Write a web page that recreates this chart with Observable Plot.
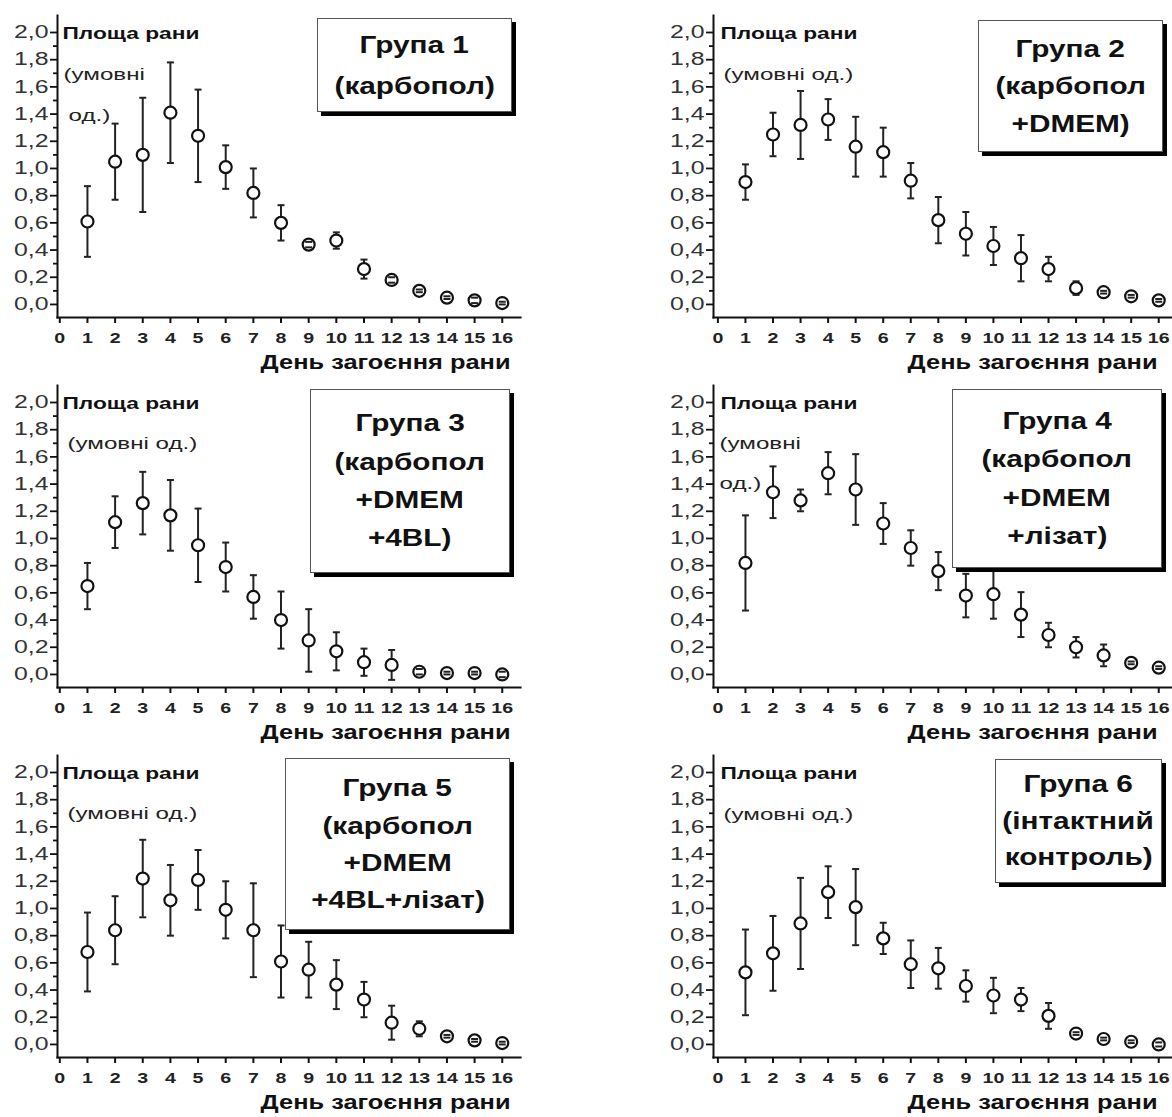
<!DOCTYPE html>
<html><head><meta charset="utf-8">
<script src="https://cdn.jsdelivr.net/npm/d3@7"></script>
<script src="https://cdn.jsdelivr.net/npm/@observablehq/plot@0.6"></script>
<style>
body{margin:0;background:#fff;}
#root{position:relative;width:1172px;height:1117px;overflow:hidden;font-family:"Liberation Sans",Arial,sans-serif;background:#fff;}
.panel{position:absolute;}
.panel svg{overflow:visible;background:transparent;}
.box{position:absolute;background:#fff;border:1px solid #555;box-shadow:4px 4px 0 #000;display:flex;flex-direction:column;justify-content:center;align-items:center;font-weight:bold;font-size:24px;color:#111;box-sizing:border-box;}
.box span{display:block;transform:scaleX(1.24);white-space:nowrap;}
</style></head><body><div id="root"></div>
<script>
// ---- data ----
const days = [1,2,3,4,5,6,7,8,9,10,11,12,13,14,15,16];
const xTickValues = [0,1,2,3,4,5,6,7,8,9,10,11,12,13,14,15,16];
const yTickValues = [0,0.2,0.4,0.6,0.8,1.0,1.2,1.4,1.6,1.8,2.0];
const yMinorTicks = [0.1,0.3,0.5,0.7,0.9,1.1,1.3,1.5,1.7,1.9];
const yLabel = "Площа рани";
const unitFull = "(умовні од.)";
const unitPart1 = "(умовні";
const unitPart2 = "од.)";
const xTitle = "День загоєння рани";

const g1Mean = [0.61,1.05,1.10,1.41,1.24,1.01,0.82,0.60,0.44,0.47,0.26,0.18,0.10,0.05,0.03,0.01];
const g1Err  = [0.26,0.28,0.42,0.37,0.34,0.16,0.18,0.13,0.02,0.06,0.07,0.02,0.01,0.01,0.02,0.01];
const g2Mean = [0.90,1.25,1.32,1.36,1.16,1.12,0.91,0.62,0.52,0.43,0.34,0.26,0.12,0.09,0.06,0.03];
const g2Err  = [0.13,0.16,0.25,0.15,0.22,0.18,0.13,0.17,0.16,0.14,0.17,0.09,0.05,0.01,0.01,0.01];
const g3Mean = [0.65,1.12,1.26,1.17,0.95,0.79,0.57,0.40,0.25,0.17,0.09,0.07,0.02,0.01,0.01,0.00];
const g3Err  = [0.17,0.19,0.23,0.26,0.27,0.18,0.16,0.21,0.23,0.14,0.10,0.11,0.02,0.01,0.01,0.02];
const g4Mean = [0.82,1.34,1.28,1.48,1.36,1.11,0.93,0.76,0.58,0.59,0.44,0.29,0.20,0.14,0.085,0.05];
const g4Err  = [0.35,0.19,0.08,0.155,0.26,0.15,0.13,0.14,0.16,0.18,0.165,0.09,0.075,0.08,0.01,0.01];
const g5Mean = [0.68,0.84,1.22,1.06,1.21,0.99,0.84,0.61,0.55,0.44,0.33,0.16,0.115,0.06,0.03,0.01];
const g5Err  = [0.29,0.25,0.285,0.26,0.22,0.21,0.345,0.265,0.205,0.18,0.13,0.125,0.055,0.01,0.01,0.01];
const g6Mean = [0.53,0.67,0.89,1.12,1.01,0.78,0.59,0.56,0.43,0.36,0.33,0.21,0.08,0.04,0.02,0.00];
const g6Err  = [0.315,0.275,0.335,0.19,0.28,0.115,0.175,0.15,0.115,0.13,0.085,0.095,0.01,0.01,0.01,0.015];

const g1Title = ["Група 1","(карбопол)"];
const g2Title = ["Група 2","(карбопол","+DMEM)"];
const g3Title = ["Група 3","(карбопол","+DMEM","+4BL)"];
const g4Title = ["Група 4","(карбопол","+DMEM","+лізат)"];
const g5Title = ["Група 5","(карбопол","+DMEM","+4BL+лізат)"];
const g6Title = ["Група 6","(інтактний","контроль)"];

// ---- layout (positions / styles) ----
const L = {w:520, xDomain:[-0.083,16.66], labDx:5, titleDx:-10, left:0};
const R = {w:516, xDomain:[-0.16,16.5], labDx:7, titleDx:-15, left:656};
const panels = [
  {col:L, top:0,   mean:g1Mean, err:g1Err, title:g1Title, split:true,  unit:{dx:6, dy:64, dx2:11, dy2:105}, box:{left:317, top:18, w:195, h:94, lh:41}},
  {col:R, top:0,   mean:g2Mean, err:g2Err, title:g2Title, split:false, unit:{dx:10, dy:64}, box:{left:978, top:20, w:185, h:132, lh:37.5}},
  {col:L, top:370, mean:g3Mean, err:g3Err, title:g3Title, split:false, unit:{dx:10, dy:63}, box:{left:310, top:389, w:200, h:184, lh:38.3}},
  {col:R, top:370, mean:g4Mean, err:g4Err, title:g4Title, split:true,  unit:{dx:6, dy:63, dx2:6, dy2:103}, box:{left:952, top:389, w:210, h:179, lh:38.3}},
  {col:L, top:740, mean:g5Mean, err:g5Err, title:g5Title, split:false, unit:{dx:10, dy:63}, box:{left:285, top:758, w:225, h:172, lh:37.3}},
  {col:R, top:740, mean:g6Mean, err:g6Err, title:g6Title, split:false, unit:{dx:10, dy:64}, box:{left:995, top:759, w:167, h:124, lh:36.5}}
];

const FONT = "'Liberation Sans', Arial, sans-serif";
const capSymbol = {draw(ctx, size){ const w = Math.sqrt(size/Math.PI); ctx.moveTo(-w,0); ctx.lineTo(w,0); }};
const fmt = d => d.toFixed(1).replace(".", ",");

const root = document.getElementById("root");

function note(text, dx, dy, size, weight, fill="#111") {
  return Plot.text([text], {text: d => d, frameAnchor:"top-left", dx, dy, textAnchor:"start", lineAnchor:"bottom",
    fontSize:size, fontWeight:weight, fill});
}

// widen lettering horizontally, as in the reference
function stretchFactor(t) {
  const g = t.closest("g[aria-label]");
  const lab = g ? g.getAttribute("aria-label") : "";
  if (lab === "y-axis tick label") return 1.38;
  if (lab === "x-axis tick label") return 1.35;
  const s = t.textContent;
  if (s === yLabel) return 1.42;
  if (s === unitFull || s === unitPart1 || s === unitPart2) return 1.42;
  if (s === xTitle) return 1.27;
  return 1;
}

panels.forEach(p => {
  const c = p.col;
  const rows = days.map((d,i) => ({day:d, mean:p.mean[i], lo:p.mean[i]-p.err[i], hi:p.mean[i]+p.err[i]}));
  const notes = [note(yLabel, c.labDx, 23, 16, "bold")];
  if (p.split) {
    notes.push(note(unitPart1, p.unit.dx, p.unit.dy, 17, "normal", "#222"));
    notes.push(note(unitPart2, p.unit.dx2, p.unit.dy2, 17, "normal", "#222"));
  } else {
    notes.push(note(unitFull, p.unit.dx, p.unit.dy, 17, "normal", "#222"));
  }
  const svg = Plot.plot({
    width:c.w, height:372, marginLeft:57, marginRight:0, marginTop:15, marginBottom:55,
    style:{fontFamily:FONT, background:"transparent", overflow:"visible", color:"#111"},
    x:{domain:c.xDomain, axis:null},
    y:{domain:[-0.096, 2.125], axis:null},
    marks:[
      Plot.axisY(yMinorTicks, {tickSize:4, tickFormat:() => "", strokeWidth:1.8, label:null}),
      Plot.axisY(yTickValues, {tickSize:7, tickPadding:2, tickFormat:fmt, fontSize:18, fill:"#333", stroke:"#111", strokeWidth:1.8, label:null}),
      Plot.axisX(xTickValues, {tickSize:6, tickPadding:9, fontSize:14.5, fontWeight:"bold", fill:"#222", stroke:"#111", strokeWidth:2, label:null, tickFormat:d => String(d)}),
      Plot.frame({anchor:"left", stroke:"#111", strokeWidth:2}),
      Plot.frame({anchor:"bottom", stroke:"#111", strokeWidth:2.2}),
      Plot.ruleX(rows, {x:"day", y1:"lo", y2:"hi", stroke:"#222", strokeWidth:2}),
      Plot.dot(rows, {x:"day", y:"mean", r:6, fill:"white", stroke:"#111", strokeWidth:2.2}),
      Plot.dot(rows, {x:"day", y:"lo", r:3.5, symbol:capSymbol, stroke:"#222", strokeWidth:2}),
      Plot.dot(rows, {x:"day", y:"hi", r:3.5, symbol:capSymbol, stroke:"#222", strokeWidth:2}),
      ...notes,
      Plot.text([xTitle], {text:d => d, frameAnchor:"bottom-right", dx:c.titleDx, dy:51, textAnchor:"end", lineAnchor:"bottom",
        fontSize:20, fontWeight:"bold", fill:"#111"})
    ]
  });
  const div = document.createElement("div");
  div.className = "panel";
  div.style.left = c.left + "px";
  div.style.top = p.top + "px";
  div.appendChild(svg);
  root.appendChild(div);
  svg.querySelectorAll("text").forEach(t => {
    const s = stretchFactor(t);
    if (s === 1 || !t.textContent) return;
    const len = t.getComputedTextLength();
    if (len > 0) {
      t.setAttribute("textLength", (len * s).toFixed(2));
      t.setAttribute("lengthAdjust", "spacingAndGlyphs");
    }
  });
});

panels.forEach(p => {
  const b = document.createElement("div");
  b.className = "box";
  Object.assign(b.style, {left:p.box.left+"px", top:p.box.top+"px", width:p.box.w+"px", height:p.box.h+"px", lineHeight:p.box.lh+"px"});
  p.title.forEach(line => { const s = document.createElement("span"); s.textContent = line; b.appendChild(s); });
  root.appendChild(b);
});
</script></body></html>
